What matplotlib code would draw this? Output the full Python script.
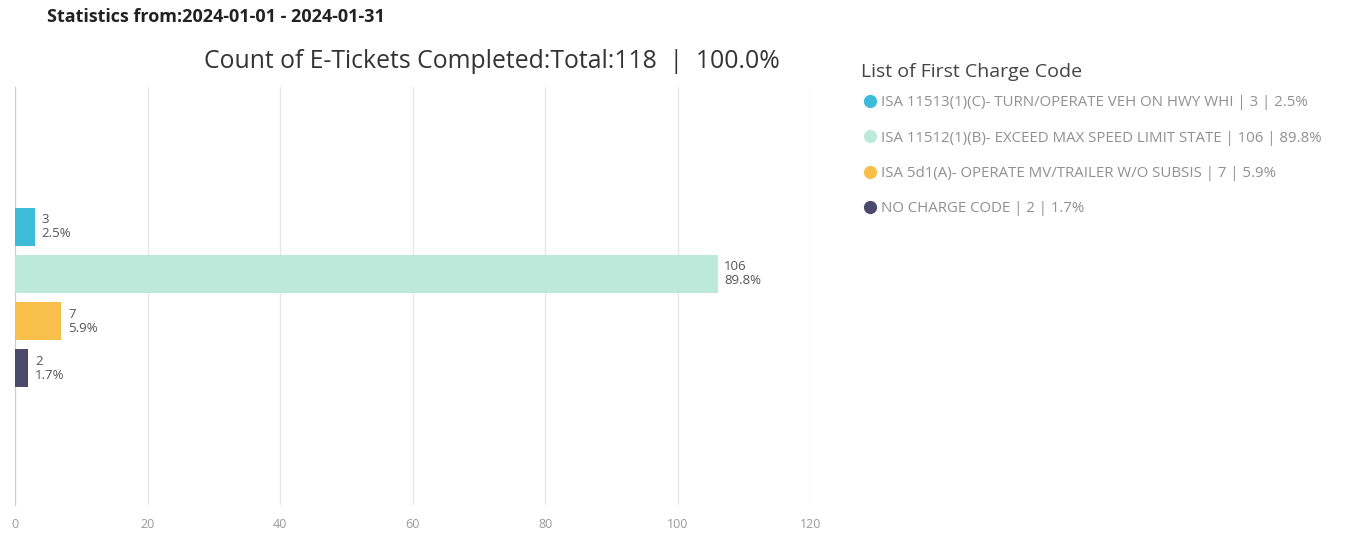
import matplotlib.pyplot as plt
from matplotlib.lines import Line2D

plt.rcParams['font.family'] = ['Open Sans', 'DejaVu Sans']

# 数据
codes = [
    "ISA 11513(1)(C)- TURN/OPERATE VEH ON HWY WHI",
    "ISA 11512(1)(B)- EXCEED MAX SPEED LIMIT STATE",
    "ISA 5d1(A)- OPERATE MV/TRAILER W/O SUBSIS",
    "NO CHARGE CODE",
]
counts = [3, 106, 7, 2]
percents = ["2.5%", "89.8%", "5.9%", "1.7%"]
colors = ["#3dbbd9", "#bde9da", "#f8c04a", "#4b4a6d"]
xticks = [0, 20, 40, 60, 80, 100, 120]
total = 118

fig = plt.figure(figsize=(13.69, 5.35), dpi=100)
ax = fig.add_axes([0.011, 0.056, 0.581, 0.781])

pos = list(range(len(counts)))
ax.barh(pos, counts, height=0.81, color=colors, zorder=3)

# 标签
for p, c, pc in zip(pos, counts, percents):
    ax.text(c + 1.0, p, f"{c}\n{pc}", va='center', ha='left',
            fontsize=9.5, color='#555555', linespacing=1.1, zorder=4)

ax.set_xlim(0, 120)
ax.set_ylim(5.9, -2.96)
ax.set_xticks(xticks)
ax.set_xticklabels([str(v) for v in xticks], fontsize=9, color='#999999')
ax.set_yticks([])
ax.tick_params(axis='x', length=0, pad=9)
ax.grid(axis='x', color='#e6e6e6', linewidth=1, zorder=0)
for s in ['top', 'right', 'bottom']:
    ax.spines[s].set_visible(False)
ax.spines['left'].set_color('#cccccc')

ax.set_title(f"Count of E-Tickets Completed:Total:{total}  |  100.0%",
             fontsize=17.8, color='#333333', pad=14, x=0.6, fontweight='medium')

fig.text(0.034, 0.968, "Statistics from:2024-01-01 - 2024-01-31",
         fontsize=13, fontweight='bold', color='#222222', va='center')

# 图例
fig.text(0.629, 0.865, "List of First Charge Code", fontsize=14,
         color='#444444', va='center', ha='left')
handles = [Line2D([0], [0], marker='o', linestyle='', markersize=8.5,
                  markerfacecolor=col, markeredgecolor=col) for col in colors]
labels = [f"{cd} | {c} | {pc}" for cd, c, pc in zip(codes, counts, percents)]
leg = fig.legend(handles, labels, loc='upper left', bbox_to_anchor=(0.626, 0.833),
                 frameon=False, fontsize=10.8, labelcolor='#909090',
                 handletextpad=0.2, labelspacing=1.35, handlelength=1.0,
                 borderaxespad=0)

fig.savefig("out.png", dpi=100, facecolor='white')
